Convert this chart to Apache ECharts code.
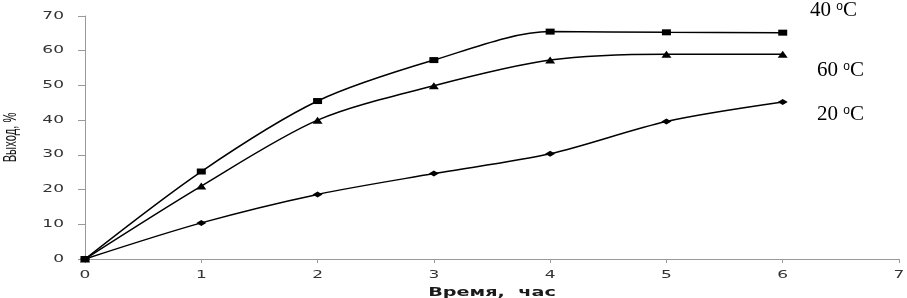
<!DOCTYPE html>
<html><head><meta charset="utf-8">
<script src="https://cdn.jsdelivr.net/npm/echarts@6/dist/echarts.min.js"></script>
<style>html,body{margin:0;padding:0;background:#fff}#c{width:907px;height:298px}</style>
</head><body><div id="c"></div>
<script>
const hours = [0, 1, 2, 3, 4, 5, 6];
const yield40 = [0, 25.2, 45.5, 57.3, 65.5, 65.3, 65.2];
const yield60 = [0, 21.0, 40.0, 49.9, 57.3, 59.0, 59.0];
const yield20 = [0, 10.4, 18.6, 24.6, 30.3, 39.6, 45.2];
const seriesNames = ['40 °C', '60 °C', '20 °C'];
const xTicks = [0, 1, 2, 3, 4, 5, 6, 7];
const yTicks = [0, 10, 20, 30, 40, 50, 60, 70];
const xName = 'Время,  час';
const yName = 'Выход, %';

const chart = echarts.init(document.getElementById('c'));
const pair = arr => hours.map((h, i) => [h, arr[i]]);
const lineStyle = {color: '#000', width: 1.5};
chart.setOption({
  animation: false,
  grid: {left: 85, right: 8, top: 16, bottom: 39, containLabel: false, outerBoundsMode: 'none'},
  xAxis: {
    type: 'value', min: xTicks[0], max: xTicks[xTicks.length - 1], interval: 1,
    axisLine: {lineStyle: {color: '#999'}},
    axisTick: {show: true, length: 4, inside: false, lineStyle: {color: '#999'}},
    axisLabel: {show: false},
    splitLine: {show: false}
  },
  yAxis: {
    type: 'value', min: yTicks[0], max: yTicks[yTicks.length - 1], interval: 10,
    axisLine: {show: true, lineStyle: {color: '#999'}},
    axisTick: {show: true, length: 7, lineStyle: {color: '#999'}},
    axisLabel: {show: false},
    splitLine: {show: false}
  },
  series: [
    {name: seriesNames[0], type: 'line', data: pair(yield40), smooth: 0.3, symbol: 'rect', symbolSize: [9, 6], lineStyle, itemStyle: {color: '#000'}},
    {name: seriesNames[1], type: 'line', data: pair(yield60), smooth: 0.3, symbol: 'triangle', symbolSize: [10, 7], lineStyle, itemStyle: {color: '#000'}},
    {name: seriesNames[2], type: 'line', data: pair(yield20), smooth: 0.3, symbol: 'diamond', symbolSize: [10, 6], lineStyle, itemStyle: {color: '#000'}}
  ]
});

// Wide, flat tick labels and axis names (text kept as real text, positions from the axes)
const px = (x, y) => chart.convertToPixel({gridIndex: 0}, [x, y]);
const g = [];
const tickFont = '10px "DejaVu Sans"';
xTicks.forEach(t => {
  const p = px(t, 0);
  g.push({type: 'text', x: p[0], y: p[1] + 16, scaleX: 1.7, silent: true,
    style: {text: String(t), font: tickFont, fill: '#333', align: 'center', verticalAlign: 'middle'}});
});
yTicks.forEach(t => {
  const p = px(0, t);
  g.push({type: 'text', x: p[0] - 21, y: p[1], scaleX: 1.7, silent: true,
    style: {text: String(t), font: tickFont, fill: '#333', align: 'right', verticalAlign: 'middle'}});
});
const mid = px((xTicks[0] + xTicks[xTicks.length - 1]) / 2, (yTicks[0] + yTicks[yTicks.length - 1]) / 2);
const origin = px(0, 0);
g.push({type: 'text', x: mid[0], y: origin[1] + 34, scaleX: 1.6, silent: true,
  style: {text: xName, font: 'bold 12px "DejaVu Sans"', fill: '#1a1a1a', align: 'center', verticalAlign: 'middle'}});
g.push({type: 'text', x: origin[0] - 74, y: mid[1], rotation: Math.PI / 2, scaleX: 0.7, scaleY: 1.1, silent: true,
  style: {text: yName, font: '16px "Liberation Sans"', fill: '#111', align: 'center', verticalAlign: 'middle'}});
// temperature labels
const rich = {s: {fontSize: 12, padding: [0, 0, 8, 0]}};
g.push({type: 'text', left: 810, top: 0, style: {text: '40 {s|o}C', rich, font: '21px "Liberation Serif"', fill: '#000'}});
g.push({type: 'text', left: 817, top: 60, style: {text: '60 {s|o}C', rich, font: '21px "Liberation Serif"', fill: '#000'}});
g.push({type: 'text', left: 817, top: 104, style: {text: '20 {s|o}C', rich, font: '21px "Liberation Serif"', fill: '#000'}});
chart.setOption({graphic: g});
</script></body></html>
